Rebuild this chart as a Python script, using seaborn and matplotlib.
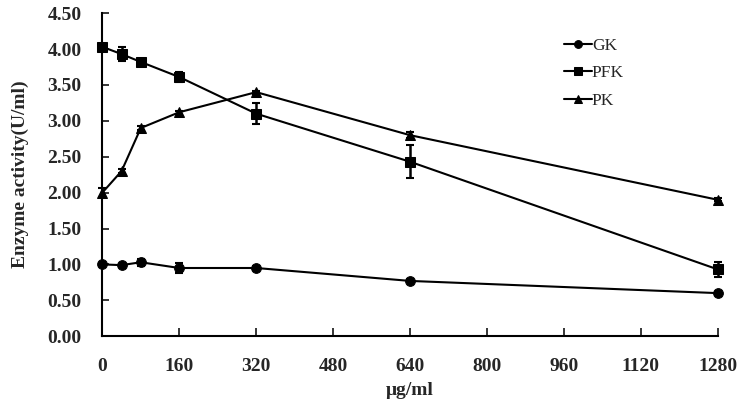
import matplotlib
matplotlib.use("Agg")
import matplotlib.pyplot as plt
import seaborn as sns
import pandas as pd
import numpy as np

conc = [0, 40, 80, 160, 320, 640, 1280]
gk = [1.00, 0.99, 1.03, 0.95, 0.95, 0.77, 0.60]
gk_err = [0.02, 0.02, 0.05, 0.07, 0.03, 0.02, 0.02]
pfk = [4.03, 3.93, 3.82, 3.61, 3.10, 2.43, 0.93]
pfk_err = [0.03, 0.10, 0.04, 0.07, 0.15, 0.23, 0.10]
pk = [2.00, 2.30, 2.90, 3.12, 3.40, 2.80, 1.90]
pk_err = [0.06, 0.03, 0.03, 0.02, 0.02, 0.04, 0.02]
names = ["GK", "PFK", "PK"]
xticks = [0, 160, 320, 480, 640, 800, 960, 1120, 1280]
yticks = [0.0, 0.5, 1.0, 1.5, 2.0, 2.5, 3.0, 3.5, 4.0, 4.5]

sns.set_theme(style="ticks")
plt.rcParams['font.family'] = ['Liberation Serif', 'DejaVu Serif']

df = pd.DataFrame({
    "conc": conc * 3,
    "val": gk + pfk + pk,
    "enzyme": [names[0]] * 7 + [names[1]] * 7 + [names[2]] * 7,
})

fig = plt.figure(figsize=(7.47, 4.11), dpi=100)
ax = fig.add_axes([0.137, 0.182, 0.824, 0.786])

markers = {"GK": "o", "PFK": "s", "PK": "^"}
sns.lineplot(data=df, x="conc", y="val", hue="enzyme", style="enzyme",
             markers=markers, dashes=False, palette=["black"] * 3,
             markersize=7, linewidth=1.5, markeredgecolor="black",
             ax=ax, clip_on=False, legend=True)

for vals, errs in [(gk, gk_err), (pfk, pfk_err), (pk, pk_err)]:
    ax.errorbar(conc, vals, yerr=errs, fmt="none", ecolor="black",
                elinewidth=1.8, capsize=3, capthick=1.5, clip_on=False)

ax.set_xlim(0, 1280)
ax.set_ylim(0, 4.5)
ax.set_xticks(xticks)
ax.set_xticklabels([str(t) for t in xticks])
ax.set_yticks(yticks)
ax.set_yticklabels([f"{t:.2f}" for t in yticks])
for lab in ax.get_xticklabels() + ax.get_yticklabels():
    lab.set_fontweight("bold")
    lab.set_fontsize(14)
ax.tick_params(axis="x", direction="in", length=6, width=1.3, pad=16)
ax.tick_params(axis="y", direction="in", length=5, width=1.3, pad=15)
for s in ["top", "right"]:
    ax.spines[s].set_visible(False)
for s in ["left", "bottom"]:
    ax.spines[s].set_linewidth(1.5)
    ax.spines[s].set_color("black")

ax.set_xlabel("μg/ml", fontsize=14, fontweight="bold", labelpad=5)
ax.set_ylabel("Enzyme activity(U/ml)", fontsize=14, fontweight="bold", labelpad=13)

leg = ax.legend(loc="upper left", bbox_to_anchor=(0.750, 0.924), frameon=False,
                fontsize=12.5, handlelength=1.6, handletextpad=0.0, labelspacing=0.65,
                borderpad=0, borderaxespad=0, markerscale=0.8, title=None)

fig.savefig("out.png", dpi=100)
